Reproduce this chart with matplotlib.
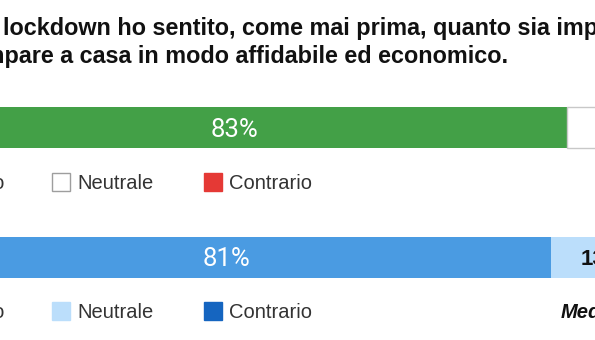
import matplotlib
matplotlib.use("Agg")
import matplotlib.pyplot as plt
from matplotlib.patches import Rectangle

# ---------------- data ----------------
title_line1 = "lockdown ho sentito, come mai prima, quanto sia importante poter"
title_line2 = "stampare a casa in modo affidabile ed economico."
legend_labels = ["D'accordo", "Neutrale", "Contrario"]
agree = [83, 81]
neutral = [13, 13]
against = [4, 6]
row_colors = [
    ["#43A047", "#FFFFFF", "#E53935"],
    ["#4A9BE2", "#BBDEFB", "#1565C0"],
]
media_label = "Media"

# ---------------- layout ----------------
W, H = 595, 340
DPI = 100
fig = plt.figure(figsize=(W / DPI, H / DPI), dpi=DPI)
fig.patch.set_facecolor("white")

def fx(px):
    return px / W

def fy(py):
    return 1 - py / H

# axes spanning the whole bar width (which extends beyond the crop)
bar_x0, bar_w = -97, 800
ax = fig.add_axes([bar_x0 / W, 0, bar_w / W, 1])
ax.set_xlim(0, 100)
ax.set_ylim(H, 0)
ax.axis("off")

bar_centers = [127.5, 257.0]
bar_h = 41

fs_white = 18.5
fs_dark = 16
for i, yc in enumerate(bar_centers):
    vals = [agree[i], neutral[i], against[i]]
    left = 0
    for j, v in enumerate(vals):
        col = row_colors[i][j]
        white = col.upper() == "#FFFFFF"
        ax.barh(yc, v, left=left, height=bar_h, color=col,
                edgecolor="#C8C8C8" if white else col,
                linewidth=1.0 if white else 0)
        if j == 0:
            ax.text(left + v / 2, yc + 0.5 * 0.711 * fs_white * DPI / 72, f"{v}%",
                    ha="center", va="baseline", color="white",
                    fontsize=fs_white, family="Roboto")
        else:
            ax.text(left + v / 2, yc + 0.5 * 0.716 * fs_dark * DPI / 72, f"{v}%",
                    ha="center", va="baseline", color="#111111",
                    fontsize=fs_dark, family="Liberation Sans", weight="bold")
        left += v

# ---------------- title ----------------
fs_title = 16.8
fig.text(fx(3), fy(35), title_line1, ha="left", va="baseline",
         fontsize=fs_title, family="Liberation Sans", weight="bold", color="#111111")
fig.text(fx(508), fy(63), title_line2, ha="right", va="baseline",
         fontsize=fs_title, family="Liberation Sans", weight="bold", color="#111111")

# ---------------- legends ----------------
fs_leg = 14.5
sq = 18
fig.canvas.draw()
renderer = fig.canvas.get_renderer()
for i, yc in enumerate(bar_centers):
    ly = yc + 54
    base = ly + 0.5 * 0.716 * fs_leg * DPI / 72
    sq_x = [None, 52, 204]
    for j, lab in enumerate(legend_labels):
        col = row_colors[i][j]
        if j == 0:
            t = fig.text(fx(5), fy(base), lab, ha="right", va="baseline",
                         fontsize=fs_leg, family="Liberation Sans", color="#333333")
            wpx = t.get_window_extent(renderer).width
            sx = 5 - wpx - 7 - sq
        else:
            sx = sq_x[j]
            fig.text(fx(sx + sq + 7), fy(base), lab, ha="left", va="baseline",
                     fontsize=fs_leg, family="Liberation Sans", color="#333333")
        ec = "#9E9E9E" if col.upper() == "#FFFFFF" else col
        fig.add_artist(Rectangle((fx(sx), fy(ly + sq / 2)), sq / W, sq / H,
                                 transform=fig.transFigure, facecolor=col,
                                 edgecolor=ec, linewidth=1.0))
    if i == 1:
        fig.text(fx(561), fy(base), media_label, ha="left", va="baseline",
                 fontsize=fs_leg, family="Liberation Sans", weight="bold",
                 style="italic", color="#111111")

fig.savefig("out.png", dpi=DPI, facecolor="white")
